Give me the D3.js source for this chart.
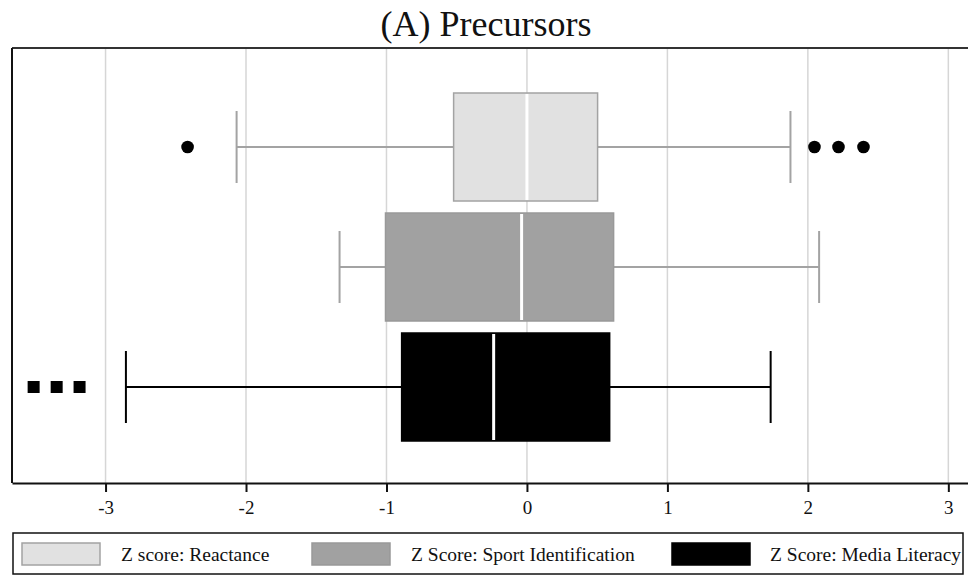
<!DOCTYPE html>
<html>
<head>
<meta charset="utf-8">
<script src="https://cdn.jsdelivr.net/npm/d3@7"></script>
<style>
  body { margin: 0; background: #fff; }
  svg { display: block; font-family: "Liberation Serif", "Times New Roman", serif; }
</style>
</head>
<body>
<svg id="chart" width="968" height="575"></svg>
<script>
// box plot stats (z scores)
const categories = ['Z score: Reactance', 'Z Score: Sport Identification', 'Z Score: Media Literacy'];
const whiskerLow = [-2.067, -1.334, -2.855];
const q1 = [-0.522, -1.007, -0.892];
const median = [0.0, -0.038, -0.237];
const q3 = [0.503, 0.617, 0.589];
const whiskerHigh = [1.876, 2.08, 1.735];
const outliers = [
  [-2.416, 2.047, 2.218, 2.396],
  [],
  [-3.512, -3.348, -3.185]
];
const xTicks = [-3, -2, -1, 0, 1, 2, 3];

const fills = ['#e1e1e1', '#a1a1a1', '#000000'];
const strokes = ['#a3a3a3', '#999999', '#000000'];
const whiskerColors = ['#a3a3a3', '#a3a3a3', '#000000'];

const svg = d3.select('#chart');
const serif = '"Liberation Serif", "Times New Roman", serif';

const plot = { left: 12, right: 968, top: 48, bottom: 483 };

const x = d3.scaleLinear()
  .domain([-3.666, 3.14])
  .range([plot.left, plot.right]);

// boxes sit a touch low in the original frame
const y = d3.scaleBand()
  .domain(categories)
  .range([plot.top + 1.5, plot.bottom + 1.5])
  .paddingInner(0)
  .paddingOuter(0.3125);

// title
svg.append('text')
  .attr('x', 486)
  .attr('y', 36)
  .attr('text-anchor', 'middle')
  .attr('font-size', 36)
  .attr('fill', '#111')
  .text('(A) Precursors');

// vertical gridlines
svg.append('g')
  .selectAll('line')
  .data(xTicks)
  .join('line')
  .attr('x1', d => x(d))
  .attr('x2', d => x(d))
  .attr('y1', plot.top)
  .attr('y2', plot.bottom)
  .attr('stroke', '#d6d6d6')
  .attr('stroke-width', 1.5);

// frame: top and left
svg.append('line')
  .attr('x1', plot.left).attr('x2', plot.right)
  .attr('y1', plot.top).attr('y2', plot.top)
  .attr('stroke', '#333').attr('stroke-width', 2);
svg.append('line')
  .attr('x1', plot.left).attr('x2', plot.left)
  .attr('y1', plot.top).attr('y2', plot.bottom)
  .attr('stroke', '#111').attr('stroke-width', 2);

// x axis (plain hyphen minus like the original)
const xAxis = svg.append('g')
  .attr('transform', `translate(0,${plot.bottom})`)
  .call(d3.axisBottom(x)
    .tickValues(xTicks)
    .tickSizeInner(9)
    .tickSizeOuter(0)
    .tickPadding(9)
    .tickFormat(d => String(d)));
xAxis.attr('font-family', serif);
xAxis.select('.domain').attr('stroke', '#111').attr('stroke-width', 2);
xAxis.selectAll('.tick line').attr('stroke', '#111').attr('stroke-width', 2);
xAxis.selectAll('.tick text')
  .attr('font-size', 19)
  .attr('fill', '#111');

// boxes
const boxes = categories.map((c, i) => ({
  name: c, i,
  lo: whiskerLow[i], q1: q1[i], med: median[i], q3: q3[i], hi: whiskerHigh[i],
  out: outliers[i]
}));

const bw = y.bandwidth();
const boxH = bw * 0.9;
const capH = bw * 0.6;

const g = svg.append('g')
  .selectAll('g')
  .data(boxes)
  .join('g')
  .attr('transform', d => `translate(0,${y(d.name) + bw / 2})`);

// whisker lines
g.append('line')
  .attr('x1', d => x(d.lo)).attr('x2', d => x(d.q1))
  .attr('y1', 0).attr('y2', 0)
  .attr('stroke', d => whiskerColors[d.i]).attr('stroke-width', 2);
g.append('line')
  .attr('x1', d => x(d.q3)).attr('x2', d => x(d.hi))
  .attr('y1', 0).attr('y2', 0)
  .attr('stroke', d => whiskerColors[d.i]).attr('stroke-width', 2);

// caps
g.append('line')
  .attr('x1', d => x(d.lo)).attr('x2', d => x(d.lo))
  .attr('y1', -capH / 2).attr('y2', capH / 2)
  .attr('stroke', d => whiskerColors[d.i]).attr('stroke-width', 2);
g.append('line')
  .attr('x1', d => x(d.hi)).attr('x2', d => x(d.hi))
  .attr('y1', -capH / 2).attr('y2', capH / 2)
  .attr('stroke', d => whiskerColors[d.i]).attr('stroke-width', 2);

// box
g.append('rect')
  .attr('x', d => x(d.q1))
  .attr('width', d => x(d.q3) - x(d.q1))
  .attr('y', -boxH / 2)
  .attr('height', boxH)
  .attr('fill', d => fills[d.i])
  .attr('stroke', d => strokes[d.i])
  .attr('stroke-width', 1.5);

// median
g.append('line')
  .attr('x1', d => x(d.med)).attr('x2', d => x(d.med))
  .attr('y1', -boxH / 2 + 1).attr('y2', boxH / 2 - 1)
  .attr('stroke', '#fff').attr('stroke-width', 3);

// outliers: circles for the first row, squares for the last
g.filter(d => d.i !== 2)
  .selectAll('circle')
  .data(d => d.out)
  .join('circle')
  .attr('cx', v => x(v))
  .attr('cy', 0)
  .attr('r', 6.3)
  .attr('fill', '#000');

g.filter(d => d.i === 2)
  .selectAll('rect.out')
  .data(d => d.out)
  .join('rect')
  .attr('class', 'out')
  .attr('x', v => x(v) - 6)
  .attr('y', -6)
  .attr('width', 12)
  .attr('height', 12)
  .attr('fill', '#000');

// legend
const legend = svg.append('g');
legend.append('rect')
  .attr('x', 13).attr('y', 533)
  .attr('width', 950).attr('height', 41)
  .attr('fill', '#fff')
  .attr('stroke', '#111').attr('stroke-width', 1.5);

const swatchX = [22, 312, 672];
const labelX = [121, 411, 770];

const items = legend.selectAll('g')
  .data(boxes)
  .join('g');
items.append('rect')
  .attr('x', d => swatchX[d.i])
  .attr('y', 543)
  .attr('width', 78)
  .attr('height', 22)
  .attr('fill', d => fills[d.i])
  .attr('stroke', d => strokes[d.i])
  .attr('stroke-width', 1.5);
items.append('text')
  .attr('x', d => labelX[d.i])
  .attr('y', 561)
  .attr('font-size', 19.5)
  .attr('fill', '#111')
  .text(d => d.name);
</script>
</body>
</html>
